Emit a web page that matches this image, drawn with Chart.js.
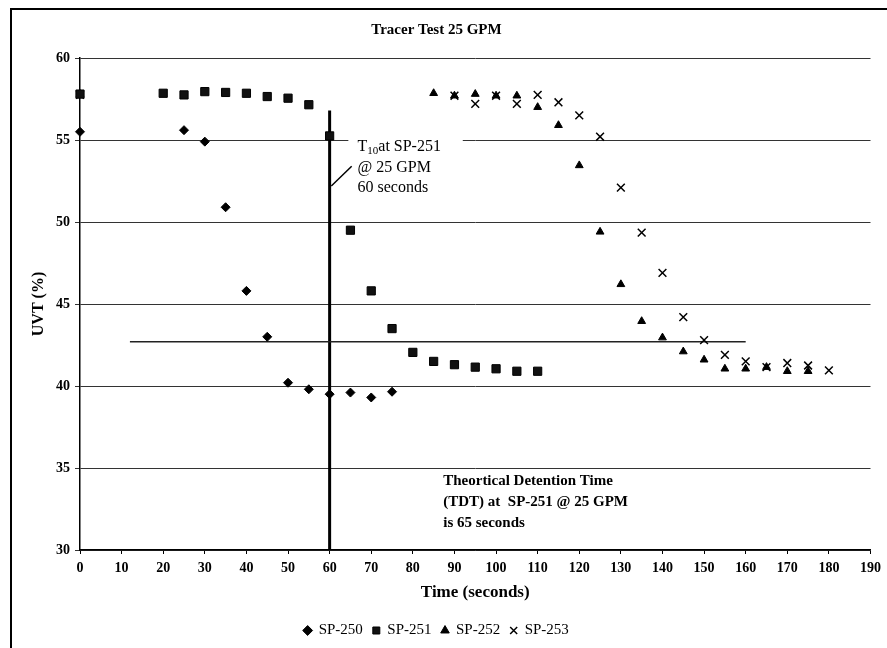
<!DOCTYPE html>
<html>
<head>
<meta charset="utf-8">
<script src="https://cdn.jsdelivr.net/npm/chart.js@4.4.1/dist/chart.umd.min.js"></script>
<style>
  body { margin: 0; background: #fff; }
</style>
</head>
<body>
<canvas id="myChart" width="887" height="648"></canvas>
<script>
// Время (секунды) и UVT (%) для каждой точки отбора
const t250 = [0, 25, 30, 35, 40, 45, 50, 55, 60, 65, 70, 75];
const sp250 = [55.5, 55.6, 54.9, 50.9, 45.8, 43.0, 40.2, 39.8, 39.5, 39.6, 39.3, 39.65];

const t251 = [0, 20, 25, 30, 35, 40, 45, 50, 55, 60, 65, 70, 75, 80, 85, 90, 95, 100, 105, 110];
const sp251 = [57.8, 57.85, 57.75, 57.95, 57.9, 57.85, 57.65, 57.55, 57.15, 55.25, 49.5, 45.8, 43.5, 42.05, 41.5, 41.3, 41.15, 41.05, 40.9, 40.9];

const t252 = [0, 85, 90, 95, 100, 105, 110, 115, 120, 125, 130, 135, 140, 145, 150, 155, 160, 165, 170, 175];
const sp252 = [57.8, 57.85, 57.7, 57.8, 57.7, 57.7, 57.0, 55.9, 53.45, 49.4, 46.2, 43.95, 42.95, 42.1, 41.6, 41.05, 41.05, 41.15, 40.9, 40.9];

const t253 = [0, 90, 95, 100, 105, 110, 115, 120, 125, 130, 135, 140, 145, 150, 155, 160, 165, 170, 175, 180];
const sp253 = [57.75, 57.7, 57.2, 57.7, 57.2, 57.75, 57.3, 56.5, 55.2, 52.1, 49.35, 46.9, 44.2, 42.8, 41.9, 41.5, 41.15, 41.4, 41.25, 40.95];

const seriesNames = ['SP-250', 'SP-251', 'SP-252', 'SP-253'];

// Подписи на графике
const t10Lines = ['at SP-251', '@ 25 GPM', '60 seconds'];
const tdtLines = ['Theortical Detention Time', '(TDT) at  SP-251 @ 25 GPM', 'is 65 seconds'];

// Опорные линии: T10 (вертикаль) и уровень 42.7
const t10Time = 60, t10Top = 56.8;
const levelY = 42.7, levelFrom = 12, levelTo = 160;

const serif = "'Liberation Serif', 'Times New Roman', serif";

function pts(xs, ys) {
    return xs.map((v, i) => ({x: v, y: ys[i]}));
}

// Плагин: линии и текстовые пометки
const notes = {
    id: 'notes',
    beforeDatasetsDraw(chart) {
        const {ctx, scales: {x, y}} = chart;
        ctx.save();
        // белый фон под подписью T10
        ctx.fillStyle = '#fff';
        ctx.fillRect(x.getPixelForValue(64.5), y.getPixelForValue(55.9), x.getPixelForValue(92) - x.getPixelForValue(64.5), 60);

        ctx.strokeStyle = '#000';
        // вертикальная линия T10
        ctx.lineWidth = 3;
        ctx.beginPath();
        ctx.moveTo(x.getPixelForValue(t10Time), y.getPixelForValue(30));
        ctx.lineTo(x.getPixelForValue(t10Time), y.getPixelForValue(t10Top));
        ctx.stroke();
        // горизонтальная линия
        ctx.lineWidth = 1.5;
        ctx.strokeStyle = '#222';
        ctx.beginPath();
        ctx.moveTo(x.getPixelForValue(levelFrom), y.getPixelForValue(levelY));
        ctx.lineTo(x.getPixelForValue(levelTo), y.getPixelForValue(levelY));
        ctx.stroke();
        // стрелка к линии T10
        ctx.strokeStyle = '#000';
        ctx.beginPath();
        ctx.moveTo(x.getPixelForValue(65.3), y.getPixelForValue(53.4));
        ctx.lineTo(x.getPixelForValue(60.4), y.getPixelForValue(52.2));
        ctx.stroke();

        // подпись T10
        ctx.fillStyle = '#000';
        ctx.textBaseline = 'middle';
        ctx.textAlign = 'left';
        let lx = x.getPixelForValue(66.7);
        let ly = y.getPixelForValue(54.6);
        ctx.font = '16px ' + serif;
        ctx.fillText('T', lx, ly);
        let w = ctx.measureText('T').width;
        ctx.font = '11px ' + serif;
        ctx.fillText('10', lx + w, ly + 5);
        let w2 = ctx.measureText('10').width;
        ctx.font = '16px ' + serif;
        ctx.fillText(t10Lines[0], lx + w + w2, ly);
        ctx.fillText(t10Lines[1], lx, ly + 21);
        ctx.fillText(t10Lines[2], lx, ly + 41);

        // подпись TDT
        ctx.font = 'bold 15px ' + serif;
        let tx = x.getPixelForValue(87.3);
        let ty = y.getPixelForValue(34.2);
        tdtLines.forEach((s, i) => ctx.fillText(s, tx, ty + i * 21));
        ctx.restore();
    },
    afterDraw(chart) {
        // рамка области диаграммы
        const ctx = chart.ctx;
        ctx.save();
        ctx.strokeStyle = '#000';
        ctx.lineWidth = 2;
        ctx.beginPath();
        ctx.moveTo(887, 9);
        ctx.lineTo(11, 9);
        ctx.lineTo(11, 648);
        ctx.stroke();
        ctx.restore();
    }
};

let ctx = document.getElementById('myChart').getContext('2d');
let chart = new Chart(ctx, {
    type: 'scatter',
    data: {
        datasets: [{
            label: seriesNames[0],
            data: pts(t250, sp250),
            pointStyle: 'rectRot',
            pointRadius: 4.5,
            backgroundColor: '#000',
            borderColor: '#000',
            borderWidth: 1,
            clip: false
        }, {
            label: seriesNames[1],
            data: pts(t251, sp251),
            pointStyle: 'rect',
            pointRadius: 5.8,
            backgroundColor: '#111',
            borderColor: '#000',
            borderWidth: 1,
            clip: false
        }, {
            label: seriesNames[2],
            data: pts(t252, sp252),
            pointStyle: 'triangle',
            pointRadius: 4.5,
            backgroundColor: '#000',
            borderColor: '#000',
            borderWidth: 1,
            clip: false
        }, {
            label: seriesNames[3],
            data: pts(t253, sp253),
            pointStyle: 'crossRot',
            pointRadius: 5.5,
            backgroundColor: '#000',
            borderColor: '#000',
            borderWidth: 1.5,
            clip: false
        }]
    },
    options: {
        responsive: false,
        animation: false,
        devicePixelRatio: 1,
        layout: { padding: { top: 5, right: 14, left: 0, bottom: 0 } },
        plugins: {
            title: {
                display: true,
                text: 'Tracer Test 25 GPM',
                color: '#000',
                font: { family: serif, size: 15, weight: 'bold' },
                padding: { top: 16, bottom: 19 }
            },
            legend: {
                position: 'bottom',
                labels: {
                    usePointStyle: true,
                    boxWidth: 7,
                    boxHeight: 7,
                    color: '#000',
                    padding: 10,
                    font: { family: serif, size: 15 }
                }
            },
            tooltip: { enabled: false }
        },
        scales: {
            x: {
                type: 'linear',
                min: 0,
                max: 190,
                afterFit: s => { s.height = 63; },
                ticks: {
                    stepSize: 10,
                    color: '#000',
                    padding: 6,
                    font: { family: serif, size: 14, weight: 'bold' }
                },
                grid: { drawOnChartArea: false, color: '#000', tickLength: 4 },
                border: { color: '#000', width: 1.5 },
                title: {
                    display: true,
                    text: 'Time (seconds)',
                    color: '#000',
                    font: { family: serif, size: 17, weight: 'bold' },
                    padding: { top: 0, bottom: 10 }
                }
            },
            y: {
                min: 30,
                max: 60,
                afterFit: s => { s.width = 80; },
                ticks: {
                    stepSize: 5,
                    color: '#000',
                    padding: 5,
                    font: { family: serif, size: 14, weight: 'bold' }
                },
                grid: { color: '#333', lineWidth: 1, tickLength: 5 },
                border: { color: '#000', width: 1.5 },
                title: {
                    display: true,
                    text: 'UVT (%)',
                    color: '#000',
                    font: { family: serif, size: 16, weight: 'bold' },
                    padding: { top: 29, bottom: 0 }
                }
            }
        }
    },
    plugins: [notes]
});
</script>
</body>
</html>
